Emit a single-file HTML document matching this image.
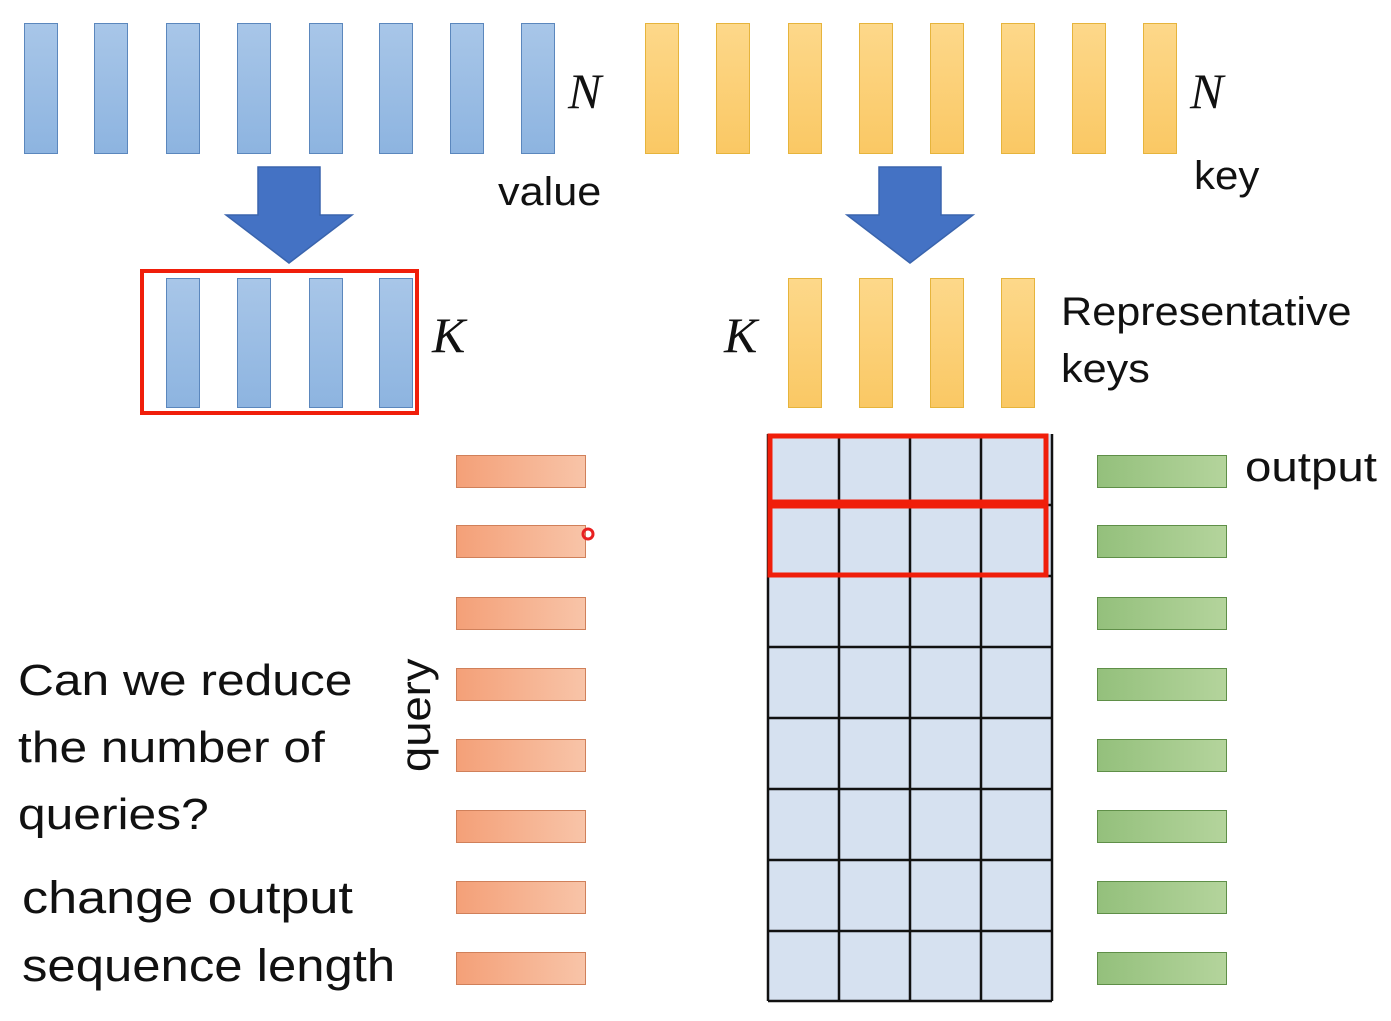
<!DOCTYPE html>
<html><head><meta charset="utf-8"><style>
body{margin:0;width:1391px;height:1021px;background:#fff;position:relative;overflow:hidden;font-family:"Liberation Sans",sans-serif;}
.b{position:absolute;box-sizing:border-box;}
.vb{width:34px;border:1.5px solid #5b87bd;background:linear-gradient(#a8c6e8,#8db4e0);}
.yb{width:34px;border:1.5px solid #e6b43c;background:linear-gradient(#fdd88a,#fac864);}
.qb{width:130px;height:33px;border:1.5px solid #d0805a;background:linear-gradient(90deg,#f4a078,#f8c4a8);}
.ob{width:130px;height:33px;border:1.5px solid #5f8f48;background:linear-gradient(90deg,#94c07c,#b4d49c);}
.t{position:absolute;white-space:nowrap;color:#111;transform-origin:0 50%;}
.m{font-family:"Liberation Serif",serif;font-style:italic;font-size:50px;}
</style></head><body>
<div class="b vb" style="left:24px;top:23px;height:131px"></div>
<div class="b vb" style="left:94px;top:23px;height:131px"></div>
<div class="b vb" style="left:166px;top:23px;height:131px"></div>
<div class="b vb" style="left:237px;top:23px;height:131px"></div>
<div class="b vb" style="left:309px;top:23px;height:131px"></div>
<div class="b vb" style="left:379px;top:23px;height:131px"></div>
<div class="b vb" style="left:450px;top:23px;height:131px"></div>
<div class="b vb" style="left:521px;top:23px;height:131px"></div>
<div class="b yb" style="left:645px;top:23px;height:131px"></div>
<div class="b yb" style="left:716px;top:23px;height:131px"></div>
<div class="b yb" style="left:788px;top:23px;height:131px"></div>
<div class="b yb" style="left:859px;top:23px;height:131px"></div>
<div class="b yb" style="left:930px;top:23px;height:131px"></div>
<div class="b yb" style="left:1001px;top:23px;height:131px"></div>
<div class="b yb" style="left:1072px;top:23px;height:131px"></div>
<div class="b yb" style="left:1143px;top:23px;height:131px"></div>
<div class="t m" style="left:568px;top:62px">N</div>
<div class="t m" style="left:1190px;top:62px">N</div>
<div class="t" style="left:498px;top:170px;font-size:40px;transform:scaleX(1.08)">value</div>
<div class="t" style="left:1194px;top:154px;font-size:40px;transform:scaleX(1.05)">key</div>
<svg style="position:absolute;left:0;top:0" width="1391" height="1021">
<polygon points="258,167 320,167 320,215 352,215 289,263 226,215 258,215" fill="#4472c4" stroke="#3a64ad" stroke-width="1.5"/>
<polygon points="879,167 941,167 941,215 973,215 910,263 847,215 879,215" fill="#4472c4" stroke="#3a64ad" stroke-width="1.5"/>
<rect x="768" y="434" width="284" height="567" fill="#d6e1f0"/>
<g stroke="#111" stroke-width="2.5">
<line x1="768" y1="434" x2="768" y2="1001"/><line x1="839" y1="434" x2="839" y2="1001"/><line x1="910" y1="434" x2="910" y2="1001"/><line x1="981" y1="434" x2="981" y2="1001"/><line x1="1052" y1="434" x2="1052" y2="1001"/>
<line x1="768" y1="505" x2="1052" y2="505"/><line x1="768" y1="576" x2="1052" y2="576"/><line x1="768" y1="647" x2="1052" y2="647"/><line x1="768" y1="718" x2="1052" y2="718"/><line x1="768" y1="789" x2="1052" y2="789"/><line x1="768" y1="860" x2="1052" y2="860"/><line x1="768" y1="931" x2="1052" y2="931"/><line x1="768" y1="1001" x2="1052" y2="1001"/>
</g>
<rect x="770" y="436" width="276" height="66" fill="none" stroke="#f01e0a" stroke-width="5"/>
<rect x="770" y="506" width="276" height="69" fill="none" stroke="#f01e0a" stroke-width="5"/>
</svg>
<div class="b vb" style="left:166px;top:278px;height:130px"></div>
<div class="b vb" style="left:237px;top:278px;height:130px"></div>
<div class="b vb" style="left:309px;top:278px;height:130px"></div>
<div class="b vb" style="left:379px;top:278px;height:130px"></div>
<div class="b" style="left:140px;top:269px;width:279px;height:146px;border:4px solid #f01e0a"></div>
<div class="b yb" style="left:788px;top:278px;height:130px"></div>
<div class="b yb" style="left:859px;top:278px;height:130px"></div>
<div class="b yb" style="left:930px;top:278px;height:130px"></div>
<div class="b yb" style="left:1001px;top:278px;height:130px"></div>
<div class="t m" style="left:432px;top:306px">K</div>
<div class="t m" style="left:724px;top:306px">K</div>
<div class="t" style="left:1061px;top:290px;font-size:40px;transform:scaleX(1.08)">Representative</div>
<div class="t" style="left:1061px;top:347px;font-size:40px;transform:scaleX(1.08)">keys</div>
<div class="t" style="left:1245px;top:443px;font-size:42px;transform:scaleX(1.13)">output</div>
<div class="b qb" style="left:456px;top:455px"></div>
<div class="b qb" style="left:456px;top:525px"></div>
<div class="b qb" style="left:456px;top:597px"></div>
<div class="b qb" style="left:456px;top:668px"></div>
<div class="b qb" style="left:456px;top:739px"></div>
<div class="b qb" style="left:456px;top:810px"></div>
<div class="b qb" style="left:456px;top:881px"></div>
<div class="b qb" style="left:456px;top:952px"></div>
<svg style="position:absolute;left:0;top:0" width="1391" height="1021"><circle cx="588" cy="534" r="5" fill="none" stroke="#e82020" stroke-width="3"/></svg>
<div class="b ob" style="left:1097px;top:455px"></div>
<div class="b ob" style="left:1097px;top:525px"></div>
<div class="b ob" style="left:1097px;top:597px"></div>
<div class="b ob" style="left:1097px;top:668px"></div>
<div class="b ob" style="left:1097px;top:739px"></div>
<div class="b ob" style="left:1097px;top:810px"></div>
<div class="b ob" style="left:1097px;top:881px"></div>
<div class="b ob" style="left:1097px;top:952px"></div>
<div class="t" style="left:392px;top:772px;font-size:42px;transform:rotate(-90deg) scaleX(1.08);transform-origin:0 0;">query</div>
<div class="t" style="left:18px;top:656px;font-size:44px;transform:scaleX(1.13)">Can we reduce</div>
<div class="t" style="left:18px;top:723px;font-size:44px;transform:scaleX(1.13)">the number of</div>
<div class="t" style="left:18px;top:790px;font-size:44px;transform:scaleX(1.13)">queries?</div>
<div class="t" style="left:22px;top:872px;font-size:45px;transform:scaleX(1.16)">change output</div>
<div class="t" style="left:22px;top:940px;font-size:45px;transform:scaleX(1.13)">sequence length</div>
</body></html>
